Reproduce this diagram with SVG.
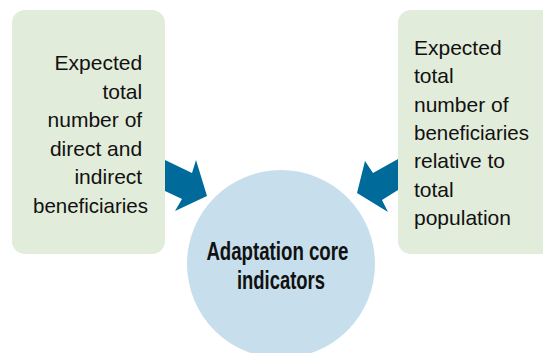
<svg xmlns="http://www.w3.org/2000/svg" width="543" height="353" viewBox="0 0 543 353">
<style>
.box{fill:#e2ecda;}
.circ{fill:#c7dfec;}
.arr{fill:#006b9b;}
.t{font-family:"Liberation Sans",Arial,sans-serif;font-size:21px;fill:#111;}
.b{font-family:"Liberation Sans",Arial,sans-serif;font-size:26px;font-weight:bold;fill:#111;}
</style>
<rect width="543" height="353" fill="#fff"/>
<g id="node-left">
<rect class="box" x="12" y="10" width="153" height="244" rx="13"/>
<text class="t" text-anchor="end">
<tspan x="148" y="70">Expected</tspan>
<tspan x="148" y="98.6">total</tspan>
<tspan x="148" y="127.2">number of</tspan>
<tspan x="148" y="155.8">direct and</tspan>
<tspan x="148" y="184.4">indirect</tspan>
<tspan x="148" y="213" textLength="115" lengthAdjust="spacingAndGlyphs">beneficiaries</tspan>
</text>
</g>
<g id="node-right">
<rect class="box" x="398" y="10" width="170" height="244" rx="13"/>
<text class="t">
<tspan x="414" y="55">Expected</tspan>
<tspan x="414" y="83.3">total</tspan>
<tspan x="414" y="111.6">number of</tspan>
<tspan x="414" y="139.9" textLength="115" lengthAdjust="spacingAndGlyphs">beneficiaries</tspan>
<tspan x="414" y="168.2">relative to</tspan>
<tspan x="414" y="196.5">total</tspan>
<tspan x="414" y="224.8">population</tspan>
</text>
</g>
<g id="node-center">
<circle class="circ" cx="281" cy="264" r="94"/>
<text class="b" text-anchor="middle">
<tspan x="281" y="260" textLength="142" lengthAdjust="spacingAndGlyphs">Adaptation core</tspan>
<tspan x="281" y="289" textLength="88" lengthAdjust="spacingAndGlyphs">indicators</tspan>
</text>
</g>
<g id="connectors">
<polygon class="arr" points="165,160 192,173 196,160 207,196 175,211 182,199 165,191"/>
<polygon class="arr" points="398,159 373,173 365,161 357,193 388,212 382,200 398,190"/>
</g>
</svg>
